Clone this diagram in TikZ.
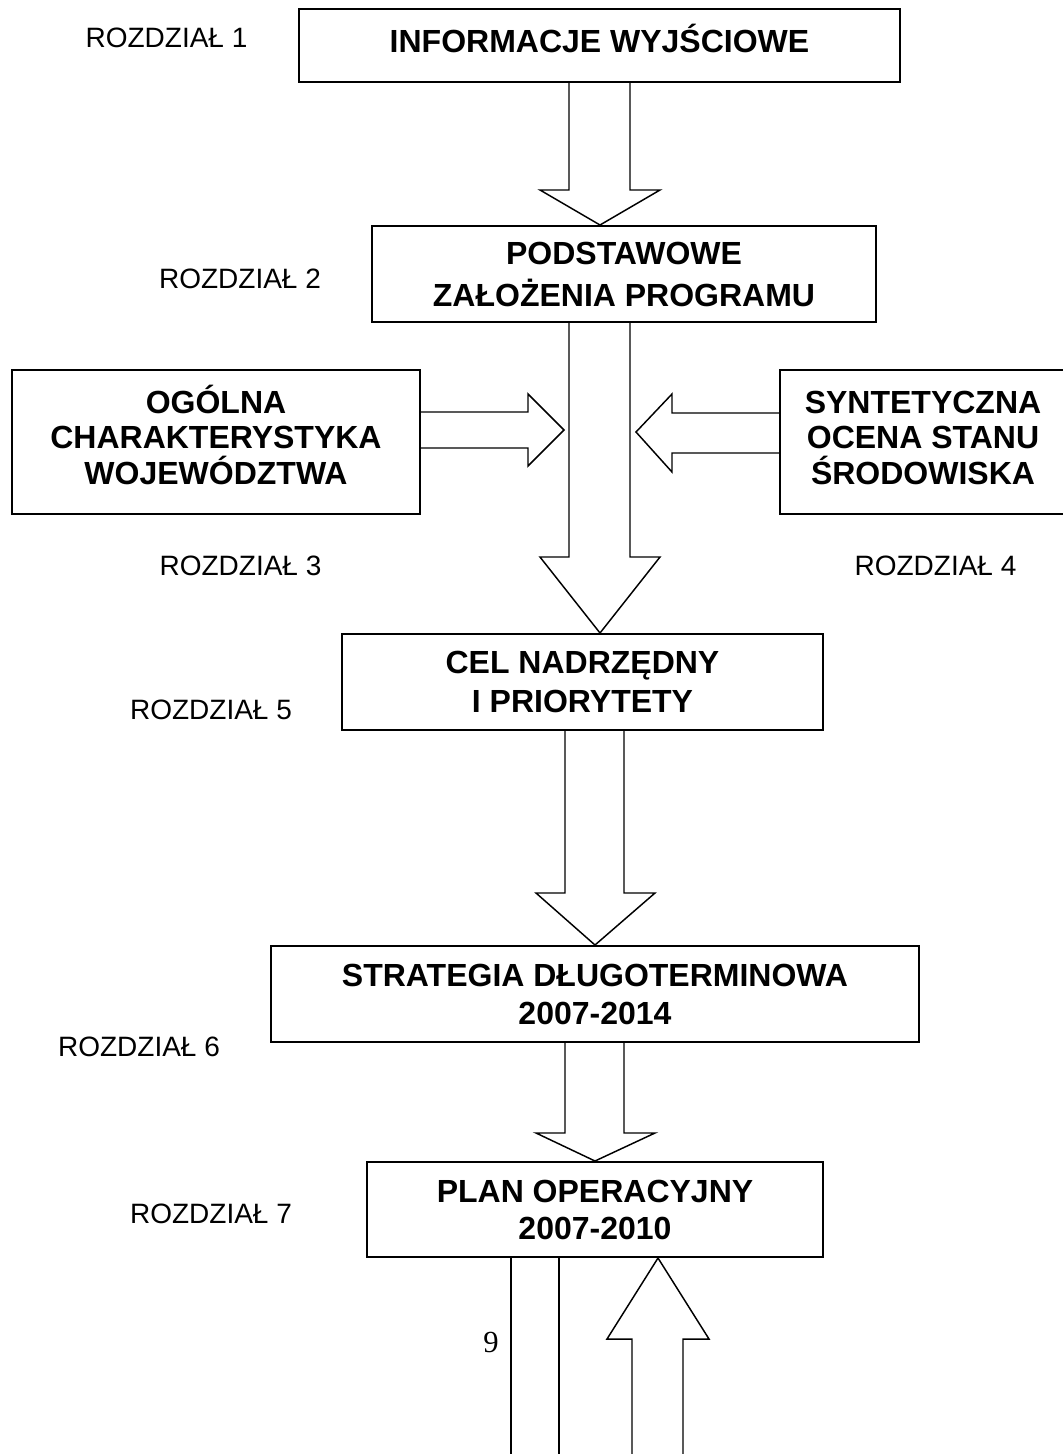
\documentclass[tikz,border=0pt]{standalone}
\usepackage{fontspec}
\setmainfont{Liberation Sans}
\newfontfamily\pagenumfont{Liberation Serif}
\newcommand\capln[1]{\rule{0pt}{17.2pt}\smash{#1}}
\newcommand\lift[1]{\rule[-#1]{0pt}{#1}}
\begin{document}
\begin{tikzpicture}[x=0.75pt,y=-0.75pt,
  box/.style={draw,line width=1.5pt,inner sep=0pt,align=center,
    font=\bfseries\fontsize{24}{28.5}\selectfont},
  lbl/.style={inner sep=0pt,text height=15pt,text depth=0pt,
    font=\fontsize{21}{25}\selectfont},
  arr/.style={draw,line width=1.1pt,line join=miter}]
\useasboundingbox (0,0) rectangle (1063,1454);
\clip (0,0) rectangle (1063,1454);

% boxes
\node[box,minimum width=450.75pt,minimum height=54.75pt] (b1) at (599.5,45.5)
  {\capln{INFORMACJE WYJŚCIOWE}\lift{6.8pt}};
\node[box,minimum width=378pt,minimum height=72pt] (b2) at (624,274)
  {\capln{PODSTAWOWE}\\[3pt]\capln{ZAŁOŻENIA PROGRAMU}};
\node[box,minimum width=306pt,minimum height=108pt] (b3) at (216,442)
  {\capln{OGÓLNA}\\[-2pt]\capln{CHARAKTERYSTYKA}\\[-2pt]\capln{WOJEWÓDZTWA}\lift{6.8pt}};
\node[box,minimum width=214.5pt,minimum height=108pt] (b4) at (923,442)
  {\capln{SYNTETYCZNA}\\[-2pt]\capln{OCENA STANU}\\[-2pt]\capln{ŚRODOWISKA}\lift{6.8pt}};
\node[box,minimum width=360.75pt,minimum height=72pt] (b5) at (582.5,682)
  {\capln{CEL NADRZĘDNY}\\[0.75pt]\capln{I PRIORYTETY}};
\node[box,minimum width=486pt,minimum height=72pt] (b6) at (595,994)
  {\capln{STRATEGIA DŁUGOTERMINOWA}\\\capln{2007-2014}};
\node[box,minimum width=342pt,minimum height=71.25pt] (b7) at (595,1209.5)
  {\capln{PLAN OPERACYJNY}\\[-0.75pt]\capln{2007-2010}};

% chapter labels
\node[lbl] (r1) at (166.5,37) {ROZDZIAŁ 1};
\node[lbl] (r2) at (240,278) {ROZDZIAŁ 2};
\node[lbl] (r3) at (240.5,565) {ROZDZIAŁ 3};
\node[lbl] (r4) at (935.5,565) {ROZDZIAŁ 4};
\node[lbl] (r5) at (211,709) {ROZDZIAŁ 5};
\node[lbl] (r6) at (139,1046) {ROZDZIAŁ 6};
\node[lbl] (r7) at (211,1213) {ROZDZIAŁ 7};

% page number
\node[inner sep=0pt,text height=15.5pt,text depth=0pt,font=\pagenumfont\fontsize{23}{27}\selectfont] (pg) at (491,1342) {9};

% block arrows
\draw[arr] (569,0 |- b1.south) -- (569,190) -- (540,190) -- (600,0 |- b2.north)
  -- (660,190) -- (630,190) -- (630,0 |- b1.south);
\draw[arr] (569,0 |- b2.south) -- (569,557) -- (540,557) -- (600,0 |- b5.north)
  -- (660,557) -- (630,557) -- (630,0 |- b2.south);
\draw[arr] (b3.east |- 0,412) -- (528,412) -- (528,394) -- (564,430)
  -- (528,466) -- (528,448) -- (b3.east |- 0,448);
\draw[arr] (b4.west |- 0,413) -- (672,413) -- (672,394) -- (636,432)
  -- (672,472) -- (672,453) -- (b4.west |- 0,453);
\draw[arr] (565,0 |- b5.south) -- (565,893) -- (536,893) -- (595,0 |- b6.north)
  -- (655,893) -- (624,893) -- (624,0 |- b5.south);
\draw[arr] (565,0 |- b6.south) -- (565,1133) -- (536,1133) -- (595,0 |- b7.north)
  -- (655,1133) -- (624,1133) -- (624,0 |- b6.south);

% arrows leaving the page at the bottom
\coordinate (e1) at (511,1454);
\coordinate (e2) at (559,1454);
\coordinate (e3) at (632,1454);
\coordinate (e4) at (683,1454);
\draw[arr] (511,0 |- b7.south) -- (e1);
\draw[arr] (559,0 |- b7.south) -- (e2);
\draw[arr] (e3) -- (632,1339) -- (607,1339) -- (658,0 |- b7.south)
  -- (709,1339) -- (683,1339) -- (e4);
\end{tikzpicture}
\end{document}
